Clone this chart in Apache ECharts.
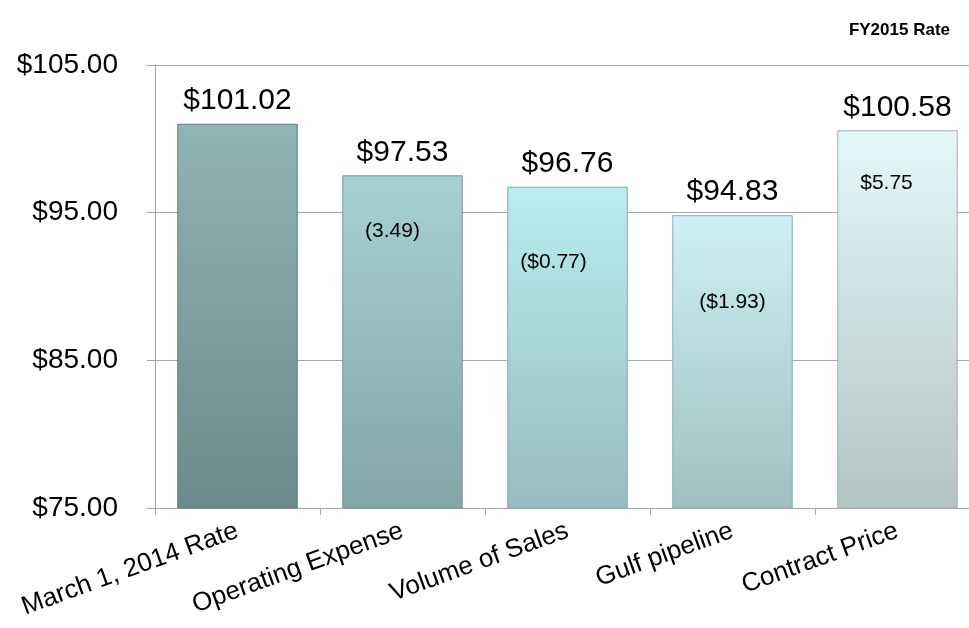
<!DOCTYPE html>
<html><head><meta charset="utf-8">
<script src="https://cdn.jsdelivr.net/npm/echarts/dist/echarts.min.js"></script>
<style>html,body{margin:0;padding:0;background:#fff}#c{width:969px;height:628px}</style>
</head><body><div id="c"></div>
<script>
const categories = ['March 1, 2014 Rate', 'Operating Expense', 'Volume of Sales', 'Gulf pipeline', 'Contract Price'];
const rates = [101.02, 97.53, 96.76, 94.83, 100.58];
const changes = [null, -3.49, -0.77, -1.93, 5.75];
const changeLabels = ['', '(3.49)', '($0.77)', '($1.93)', '$5.75'];
const yMin = 75, yMax = 105, yStep = 10;
const titleText = 'FY2015 Rate';

// styles (not data)
const barTop = ['#8fb4b6', '#a6d1d5', '#b9edf0', '#cdf1f5', '#e4f8fa'];
const barBottom = ['#6a8a8b', '#82a5a8', '#96bcbf', '#a0bfc2', '#b3c4c3'];
const barEdge = ['#5f7d7f', '#75989b', '#86aaad', '#8eacaf', '#9fb0af'];
const changeOffsets = [[0, 0], [-10, 40], [-14, 60], [0, 72], [-11, 37]];
const FONT = '"Liberation Sans", Arial, sans-serif';

const chart = echarts.init(document.getElementById('c'), null, {renderer: 'canvas'});
chart.setOption({
  animation: false,
  backgroundColor: '#ffffff',
  title: {
    text: titleText, right: 14, top: 17,
    textStyle: {fontFamily: FONT, fontSize: 17, fontWeight: 'bold', color: '#000'}
  },
  grid: {left: 155, right: -11, top: 65, bottom: 120, containLabel: false, outerBoundsMode: 'none'},
  xAxis: {
    type: 'category', data: categories,
    axisLine: {show: true, lineStyle: {color: '#a6a6a6', width: 1}},
    axisTick: {show: true, length: 7, lineStyle: {color: '#a6a6a6'}},
    axisLabel: {rotate: 20, margin: 22, fontFamily: FONT, fontSize: 26, color: '#000', interval: 0}
  },
  yAxis: {
    type: 'value', min: yMin, max: yMax, interval: yStep,
    axisLine: {show: true, lineStyle: {color: '#a6a6a6', width: 1}},
    axisTick: {show: true, length: 8, lineStyle: {color: '#a6a6a6'}},
    splitLine: {show: true, lineStyle: {color: '#a6a6a6', width: 1}},
    axisLabel: {margin: 37, fontFamily: FONT, fontSize: 28, color: '#000',
      formatter: v => '$' + v.toFixed(2)}
  },
  series: [
    {
      type: 'bar', barWidth: '73%',
      data: rates.map((v, i) => ({
        value: v,
        itemStyle: {
          color: new echarts.graphic.LinearGradient(0, 0, 0, 1, [
            {offset: 0, color: barTop[i]}, {offset: 1, color: barBottom[i]}
          ]),
          borderColor: barEdge[i], borderWidth: 1
        }
      })),
      label: {
        show: true, position: 'top', distance: 8,
        fontFamily: FONT, fontSize: 30, color: '#000',
        formatter: p => '$' + p.value.toFixed(2)
      },
      z: 2
    },
    {
      type: 'bar', barWidth: '73%', barGap: '-100%', silent: true,
      data: rates.map((v, i) => ({
        value: v,
        label: {offset: changeOffsets[i]}
      })),
      itemStyle: {color: 'rgba(0,0,0,0)'},
      label: {
        show: true, position: 'insideTop', distance: 5,
        fontFamily: FONT, fontSize: 21, color: '#000',
        formatter: p => changes[p.dataIndex] == null ? '' : changeLabels[p.dataIndex]
      },
      z: 3
    }
  ]
});
</script></body></html>
